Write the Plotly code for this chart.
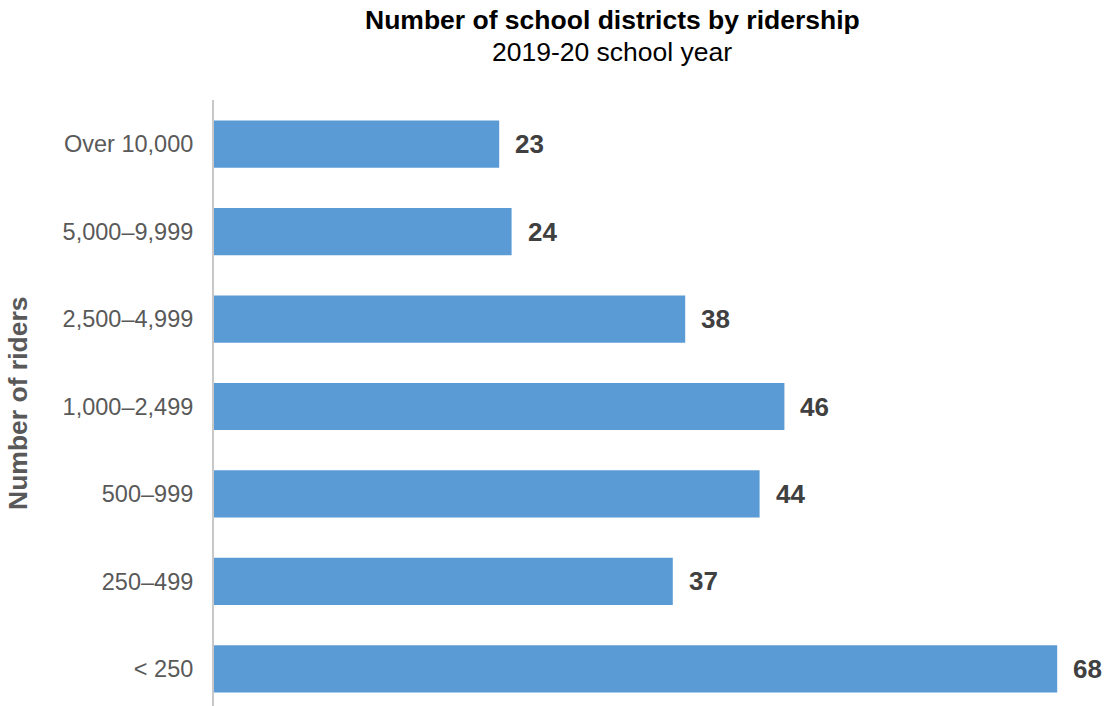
import plotly.graph_objects as go

# Ridership bands (bottom to top) and number of districts in each
categories = ["< 250", "250–499", "500–999", "1,000–2,499", "2,500–4,999", "5,000–9,999", "Over 10,000"]
districts = [68, 37, 44, 46, 38, 24, 23]

title_text = "Number of school districts by ridership"
subtitle_text = "2019-20 school year"
axis_title = "Number of riders"

W, H = 1105, 706
ML, MR, MT, MB = 214, 0, 100, 0
FONT = "Liberation Sans, Arial, sans-serif"

fig = go.Figure()
fig.add_trace(go.Bar(
    x=districts,
    y=categories,
    orientation="h",
    marker=dict(color="#5B9BD5", line=dict(width=0)),
    width=0.54,
    hoverinfo="skip",
))

# Value labels next to each bar
for cat, val in zip(categories, districts):
    fig.add_annotation(
        x=val, y=cat, xref="x", yref="y",
        text=f"<b>{val}</b>", showarrow=False,
        xanchor="left", yanchor="middle", xshift=14,
        font=dict(family=FONT, size=26, color="#404040"),
    )

plot_w = W - ML - MR
title_x = (612 - ML) / plot_w

fig.add_annotation(
    x=title_x, y=1, xref="paper", yref="paper", yshift=80,
    text=f"<b>{title_text}</b>", showarrow=False,
    xanchor="center", yanchor="middle",
    font=dict(family=FONT, size=26.5, color="#000000"),
)
fig.add_annotation(
    x=title_x, y=1, xref="paper", yref="paper", yshift=48,
    text=subtitle_text, showarrow=False,
    xanchor="center", yanchor="middle",
    font=dict(family=FONT, size=26.5, color="#000000"),
)

# Vertical axis title
fig.add_annotation(
    x=(18 - ML) / plot_w, y=0.5, xref="paper", yref="paper",
    text=f"<b>{axis_title}</b>", showarrow=False, textangle=-90,
    xanchor="center", yanchor="middle",
    font=dict(family=FONT, size=26.5, color="#595959"),
)

fig.update_layout(
    width=W, height=H,
    margin=dict(l=ML, r=MR, t=MT, b=MB),
    paper_bgcolor="white", plot_bgcolor="white",
    showlegend=False,
    xaxis=dict(
        range=[0, plot_w / 12.4],
        showgrid=False, zeroline=False, showticklabels=False,
        showline=False, ticks="",
    ),
    yaxis=dict(
        categoryorder="array", categoryarray=categories,
        range=[-0.423, 6.503],
        showgrid=False, zeroline=False,
        showline=True, linecolor="#C8C8C8", linewidth=2,
        ticks="", ticklabelstandoff=14,
        tickfont=dict(family=FONT, size=23.5, color="#595959"),
    ),
)

fig.write_html("out.html")
